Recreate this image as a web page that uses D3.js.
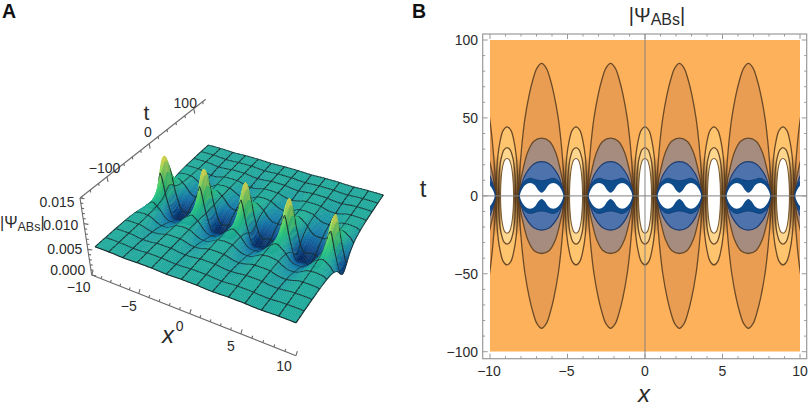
<!DOCTYPE html>
<html><head><meta charset="utf-8">
<script src="https://cdn.jsdelivr.net/npm/d3@7"></script>
<style>
html,body{margin:0;padding:0;background:#fff}
svg{display:block}
text{font-family:"Liberation Sans",Arial,sans-serif;fill:#2b2b2b}
</style></head><body>
<svg id="c" width="809" height="409"></svg>
<script>
// ---------- data ----------
// surface height |Psi| x 1000: rows = |t|, columns = distance in x from nearest crest
const distGrid = [0,0.25,0.5,0.75,1,1.25,1.5,1.75,2,2.25];
const timeGrid = [0,5,10,15,20,25,30,40,50,70,85,100];
const heightRows = [
 [13.5,10.8,6.6,3.8,1.7,1.0,0.9,1.0,1.3,1.5],
 [12.4,9.8,6.3,4.0,2.2,1.4,1.2,1.4,1.7,1.8],
 [9.2,7.8,5.9,4.5,3.1,2.3,2.0,2.0,2.1,2.1],
 [7.4,6.7,5.7,4.9,3.9,3.1,2.7,2.6,2.65,2.7],
 [6.6,6.2,5.6,5.1,4.4,3.7,3.3,3.1,3.05,3.05],
 [6.1,5.9,5.55,5.25,4.75,4.2,3.8,3.55,3.5,3.5],
 [5.8,5.7,5.5,5.3,4.95,4.5,4.15,3.9,3.85,3.85],
 [5.55,5.5,5.45,5.4,5.15,4.9,4.65,4.45,4.35,4.35],
 [5.45,5.45,5.42,5.4,5.28,5.1,4.95,4.82,4.77,4.75],
 [5.42,5.42,5.42,5.4,5.35,5.28,5.22,5.18,5.15,5.12],
 [5.41,5.41,5.4,5.4,5.38,5.34,5.3,5.27,5.25,5.24],
 [5.4,5.4,5.4,5.4,5.38,5.36,5.34,5.32,5.31,5.3]
];
const crestX = [-8.9,-4.45,0,4.45,8.9];
const crestScale = [1.0,0.95,0.92,0.85,0.8];
const troughX = [-11.1,-6.67,-2.22,2.22,6.67,11.1];
const planeLevel = 5.4;
const colorLevels = [1.2,2.4,3.5,4.5,5.4,6.6,8,10.5,13];
const colorValues = ["#03275f","#0a4f91","#1377a8","#1a95a6","#1fa99b","#25c28a","#3fd070","#8bdc5c","#f4e84c"];
const meshCells = 13;

// contour outlines, one quadrant [distance from centre, t]
const troughContours = [
 {fill:"#e89d52", pts:[[0,85],[0.3,82],[0.55,75],[0.8,65],[1.07,50],[1.25,35],[1.38,20],[1.47,8],[1.5,0]]},
 {fill:"#a68c7e", pts:[[0,37],[0.5,35],[0.9,28],[1.2,17],[1.4,7],[1.48,0]]},
 {fill:"#4e72ac", pts:[[0,22],[0.5,20.5],[1.03,14],[1.3,7],[1.45,0]]},
 {fill:"#0f4c8c", pts:[[0,9.7],[0.35,10.3],[0.75,11.3],[1.1,9.5],[1.35,4],[1.43,0]]},
 {fill:"#ffffff", pts:[[0,2],[0.2,3.5],[0.45,7],[0.75,8.3],[1.05,7],[1.3,3.5],[1.4,0]]}
];
const crestContours = [
 {fill:"#ffc46e", pts:[[0,44.3],[0.25,42],[0.45,35],[0.6,25],[0.68,12],[0.7,0]]},
 {fill:"#ffd68d", pts:[[0,31],[0.2,29.5],[0.38,24],[0.5,15],[0.55,0]]},
 {fill:"#ffffff", pts:[[0,24],[0.15,23],[0.3,18],[0.4,8],[0.42,0]]}
];
const xTickLabels = [-10,-5,0,5,10];
const tTickLabels = [-100,-50,0,50,100];
const zTickLabels = [0,0.005,0.01,0.015];
const tAxis3dLabels = [-100,0,100];

// ---------- helpers ----------
const svg = d3.select("#c");
const fmt = v => String(v).replace("-","\u2212");
function label(g,x,y,str,size,anchor){
  return g.append("text").attr("x",x).attr("y",y).attr("text-anchor",anchor||"middle")
    .attr("dominant-baseline","central").attr("font-size",size).text(str);
}

// ---------- panel B ----------
const B = svg.append("g");
const xB = d3.scaleLinear().domain([-10,10]).range([490,800]);
const yB = d3.scaleLinear().domain([-100,100]).range([351.7,40]);
const defs = svg.append("defs");
defs.append("clipPath").attr("id","plot").append("rect")
  .attr("x",xB(-10)).attr("y",yB(100)).attr("width",xB(10)-xB(-10)).attr("height",yB(-100)-yB(100));
const grad = defs.append("linearGradient").attr("id","pinch").attr("x1",0).attr("x2",0).attr("y1",0).attr("y2",1);
[[0,0],[0.5,0.9],[1,0]].forEach(s=>grad.append("stop").attr("offset",s[0]).attr("stop-color","#55381a").attr("stop-opacity",s[1]));
defs.append("filter").attr("id","soft").attr("x","-5%").attr("y","-5%").attr("width","110%").attr("height","110%")
  .append("feGaussianBlur").attr("stdDeviation",0.35);

B.append("rect").attr("x",482.7).attr("y",34).attr("width",324).attr("height",324.7)
  .attr("fill","#fff").attr("stroke","#9a9a9a").attr("stroke-width",1.2);
const plot = B.append("g").attr("clip-path","url(#plot)");
plot.append("rect").attr("x",xB(-10)).attr("y",yB(100)).attr("width",xB(10)-xB(-10)).attr("height",yB(-100)-yB(100)).attr("fill","#fdb15a");
const line = d3.line().curve(d3.curveCatmullRomClosed.alpha(0.5));
function outline(cx,pts){
  const q4 = pts.slice().reverse().filter(p=>p[1]!==0).map(p=>[p[0],-p[1]]);
  const q3 = pts.filter(p=>p[0]!==0&&p[1]!==0).map(p=>[-p[0],-p[1]]);
  const q2 = pts.slice().reverse().filter(p=>p[0]!==0).map(p=>[-p[0],p[1]]);
  return line(pts.concat(q4,q3,q2).map(p=>[xB(cx+p[0]),yB(p[1])]));
}
function drawLevels(centres,levels,stroke,width){
  centres.forEach(cx=>levels.forEach(l=>{
    plot.append("path").attr("d",outline(cx,l.pts)).attr("fill",l.fill).attr("stroke",stroke).attr("stroke-width",width);
  }));
}
drawLevels(troughX,troughContours.slice(0,2),"#6b4a28",1.3);
drawLevels(crestX,crestContours.slice(0,2),"#6b4a28",1.3);
// crowded contour lines between neighbouring lobes
crestX.forEach(cx=>[-1,1].forEach(s=>{
  const a = cx+s*0.38, b = cx+s*0.9;
  plot.append("rect").attr("x",xB(Math.min(a,b))).attr("width",Math.abs(xB(b)-xB(a)))
   .attr("y",yB(26)).attr("height",yB(-26)-yB(26)).attr("fill","url(#pinch)");
}));
drawLevels(troughX,troughContours.slice(2,3),"#1f3d6e",1.2);
drawLevels(troughX,troughContours.slice(3,4),"#0d3f78",0.8);
drawLevels(troughX,troughContours.slice(4),"none",0);
drawLevels(crestX,crestContours.slice(2),"#7b5a30",1.1);
// origin lines
B.append("line").attr("x1",xB(0)).attr("x2",xB(0)).attr("y1",34).attr("y2",358.7).attr("stroke","#808080").attr("stroke-width",1.2).attr("stroke-opacity",0.8);
B.append("line").attr("x1",482.7).attr("x2",806.7).attr("y1",yB(0)).attr("y2",yB(0)).attr("stroke","#808080").attr("stroke-width",1.2).attr("stroke-opacity",0.8);
// frame ticks
d3.range(-10,10.5,1).forEach(v=>{
  const len = v%5===0?5:2.5;
  [[34,34+len],[358.7,358.7-len]].forEach(e=>B.append("line").attr("x1",xB(v)).attr("x2",xB(v)).attr("y1",e[0]).attr("y2",e[1]).attr("stroke","#9a9a9a"));
});
d3.range(-100,101,10).forEach(v=>{
  const len = v%50===0?5:2.5;
  [[482.7,482.7+len],[806.7,806.7-len]].forEach(e=>B.append("line").attr("y1",yB(v)).attr("y2",yB(v)).attr("x1",e[0]).attr("x2",e[1]).attr("stroke","#9a9a9a"));
});
xTickLabels.forEach(v=>label(B,xB(v)+(v<0?-1:0),370.7,fmt(v),14));
tTickLabels.forEach(v=>label(B,478,yB(v),fmt(v),14,"end"));
const title = B.append("text").attr("x",657).attr("y",21.5).attr("text-anchor","middle").attr("font-size",20);
title.append("tspan").text("|\u03a8");
title.append("tspan").attr("font-size",16).attr("dy",3.5).text("ABs");
title.append("tspan").attr("dy",-3.5).text("|");
B.append("text").attr("x",644).attr("y",402).attr("text-anchor","middle").attr("font-size",24).attr("font-style","italic").text("x");
B.append("text").attr("x",423).attr("y",197).attr("text-anchor","middle").attr("font-size",24).text("t");
svg.append("text").attr("x",412).attr("y",17.5).attr("font-size",19.5).attr("font-weight","bold").text("B").style("fill","#111");
svg.append("text").attr("x",2).attr("y",17.5).attr("font-size",19.5).attr("font-weight","bold").text("A").style("fill","#111");

// ---------- panel A : projected surface ----------
const A = svg.append("g");
const uA = d3.scaleLinear().domain([-10,10]).range([0,1]);
const vA = d3.scaleLinear().domain([-100,100]).range([0,1]);
const quad = [[95,246.7],[296,322.7],[383.3,195],[208.3,145]];
const H = (function(){
  const [p0,p1,p2,p3]=quad;
  const dx1=p1[0]-p2[0],dx2=p3[0]-p2[0],sx=p0[0]-p1[0]+p2[0]-p3[0];
  const dy1=p1[1]-p2[1],dy2=p3[1]-p2[1],sy=p0[1]-p1[1]+p2[1]-p3[1];
  const den=dx1*dy2-dx2*dy1, g=(sx*dy2-dx2*sy)/den, h=(dx1*sy-sx*dy1)/den;
  return {a:p1[0]-p0[0]+g*p1[0],b:p3[0]-p0[0]+h*p3[0],c:p0[0],d:p1[1]-p0[1]+g*p1[1],e:p3[1]-p0[1]+h*p3[1],f:p0[1],g,h};
})();
const vanish=[260,1620];
function project(x,t,z){ // z in 1/1000 units
  const u=uA(x),v=vA(t),W=H.g*u+H.h*v+1;
  const X=(H.a*u+H.b*v+H.c)/W,Y=(H.d*u+H.e*v+H.f)/W;
  const dx=X-vanish[0],dy=Y-vanish[1],L=Math.hypot(dx,dy);
  const lift=(z-planeLevel)*5.15/W;
  return [X+dx/L*lift,Y+dy/L*lift];
}
const distIndex=d3.scaleLinear().domain(distGrid).range(d3.range(distGrid.length)).clamp(true);
const timeIndex=d3.scaleLinear().domain(timeGrid).range(d3.range(timeGrid.length)).clamp(true);
function cr(a,b,c,d,s){return 0.5*(2*b+(c-a)*s+(2*a-5*b+4*c-d)*s*s+(3*b-a-3*c+d)*s*s*s);}
function cellValue(i,j){
  const ni=distGrid.length,nj=timeGrid.length;
  if(i<0)i=-i; if(i>=ni)i=2*(ni-1)-i;
  if(j<0)j=-j; if(j>=nj)j=nj-1;
  return heightRows[j][i];
}
function nearest(x){
  let best=0,bd=1e9;
  crestX.forEach((c,i)=>{const d=Math.abs(x-c); if(d<bd){bd=d;best=i;}});
  return [best,bd];
}
function rawHeight(x,t){
  const bd=nearest(x)[1];
  const fi=distIndex(bd), fj=timeIndex(Math.abs(t));
  const i0=Math.floor(fi),j0=Math.floor(fj),si=fi-i0,sj=fj-j0;
  const rowsAt=[-1,0,1,2].map(dj=>cr(cellValue(i0-1,j0+dj),cellValue(i0,j0+dj),cellValue(i0+1,j0+dj),cellValue(i0+2,j0+dj),si));
  return cr(rowsAt[0],rowsAt[1],rowsAt[2],rowsAt[3],sj);
}
function height(x,t){
  const z=rawHeight(x,t);
  return z>planeLevel? planeLevel+(z-planeLevel)*crestScale[nearest(x)[0]] : z;
}
const colour=d3.scaleLinear().domain(colorLevels).range(colorValues).clamp(true);
// grid: subdivisions of the mesh cells
const xStep=20/meshCells,tStep=200/meshCells;
const xMesh=d3.range(0,meshCells+1).map(k=>-10+k*xStep), tMesh=d3.range(0,meshCells+1).map(k=>100-k*tStep);
let xs=[],xIsMesh=[];
xMesh.forEach((m,k)=>{ if(k===meshCells){xs.push(m);xIsMesh.push(true);return;}
  for(let s=0;s<10;s++){xs.push(m+s*xStep/10);xIsMesh.push(s===0);} });
let ts=[],tIsMesh=[];
tMesh.forEach((m,k)=>{ if(k===meshCells){ts.push(m);tIsMesh.push(true);return;}
  const n=(m<=50+tStep&&m>=-50)?8:3;
  for(let s=0;s<n;s++){ts.push(m-s*tStep/n);tIsMesh.push(s===0);} });
const lineP=d3.line();
const surf=A.append("g").attr("filter","url(#soft)");
const Z=ts.map(t=>xs.map(x=>height(x,t)));
const R=ts.map(t=>xs.map(x=>rawHeight(x,t)));
const Pts=ts.map((t,j)=>xs.map((x,i)=>project(x,t,Z[j][i])));
for(let j=0;j<ts.length-1;j++){
 for(let i=0;i<xs.length-1;i++){
  const p=[Pts[j][i],Pts[j][i+1],Pts[j+1][i+1],Pts[j+1][i]];
  const zm=(R[j][i]+R[j][i+1]+R[j+1][i+1]+R[j+1][i])/4;
  const dzdx=((Z[j][i+1]+Z[j+1][i+1])-(Z[j][i]+Z[j+1][i]))/2/(xs[i+1]-xs[i]);
  const dzdt=((Z[j][i]+Z[j][i+1])-(Z[j+1][i]+Z[j+1][i+1]))/2/(ts[j]-ts[j+1]);
  const sh=Math.max(-1,Math.min(1,dzdx/9+dzdt*0.5));
  let col=colour(zm);
  col = sh>0? d3.interpolateRgb(col,"#c8ffa8")(sh*0.22) : d3.interpolateRgb(col,"#00305a")(-sh*0.2);
  surf.append("path").attr("d",lineP(p)+"Z").attr("fill",col).attr("stroke",col).attr("stroke-width",0.45);
  if(tIsMesh[j]) surf.append("path").attr("d",lineP([p[0],p[1]])).attr("fill","none").attr("stroke","#1c3234").attr("stroke-width",1.1);
  if(xIsMesh[i]) surf.append("path").attr("d",lineP([p[0],p[3]])).attr("fill","none").attr("stroke","#1c3234").attr("stroke-width",1.1);
 }
 surf.append("path").attr("d",lineP([Pts[j][xs.length-1],Pts[j+1][xs.length-1]])).attr("fill","none").attr("stroke","#1a2a2c").attr("stroke-width",1.1);
}
{const j=ts.length-1; surf.append("path").attr("d",lineP(Pts[j])).attr("fill","none").attr("stroke","#1a2a2c").attr("stroke-width",1.1);}

// axes of panel A
const axisCol="#6a6a6a";
const seg=(a,b,w)=>A.append("line").attr("x1",a[0]).attr("y1",a[1]).attr("x2",b[0]).attr("y2",b[1]).attr("stroke",axisCol).attr("stroke-width",w||1.1);
// x axis
const xFrac=d3.scaleLinear().domain([-10,-5,0,5,10]).range([0,0.23,0.48,0.73,1]);
const xA=[91.7,275],xZ=[296,355.7];
const xPos=v=>[xA[0]+(xZ[0]-xA[0])*xFrac(v),xA[1]+(xZ[1]-xA[1])*xFrac(v)];
seg(xA,xZ);
d3.range(-10,10.5,1).forEach(v=>{const p=xPos(v),L=v%5===0?4.5:2.5; seg(p,[p[0]+L*0.3,p[1]-L]);});
xTickLabels.forEach(v=>{const p=xPos(v); label(A,p[0]+(v===-10?-13:v===10?-12:-10),p[1]+(v===10?10:12),fmt(v),14);});
// z axis
const zScale=d3.scaleLinear().domain([0,15]).range([0,1]);
const zA=[91.7,275],zB=[80,198];
const zPos=z=>[zA[0]+(zB[0]-zA[0])*zScale(z),zA[1]+(zB[1]-zA[1])*zScale(z)];
seg(zA,zB);
d3.range(0,15.5,1).forEach(z=>{const p=zPos(z),L=z%5===0?4.5:2.5; seg(p,[p[0]+L,p[1]+L*0.15]);});
zTickLabels.forEach(v=>{const p=zPos(v*1000); label(A,p[0]-5.5+(v===0?-1:0),p[1]+(v===0?-5:v===0.015?3.5:v===0.01?1:-0.5),v.toFixed(3),14,"end");});
// t axis
const tFrac=d3.scaleLinear().domain([-100,0,100]).range([0.215,0.55,0.905]);
const tA=[80,198],tB=[205.7,99.3];
const tPos=t=>[tA[0]+(tB[0]-tA[0])*tFrac(t),tA[1]+(tB[1]-tA[1])*tFrac(t)];
seg(tA,tB);
d3.range(-160,121,20).forEach(t=>{const p=tPos(t),L=t%100===0?5:2.5; seg(p,[p[0]+L*0.2,p[1]+L]);});
tAxis3dLabels.forEach(v=>{const p=tPos(v);label(A,p[0]+({"-100":-2.5,"0":-1.3,"100":-8.5})[v],p[1]+({"-100":-9,"0":-11.5,"100":-6})[v],fmt(v),14);});
A.append("text").attr("x",146.5).attr("y",119.5).attr("text-anchor","middle").attr("font-size",21).text("t");
A.append("text").attr("x",168).attr("y",343).attr("text-anchor","middle").attr("font-size",24).attr("font-style","italic").text("x");
const zl=A.append("text").attr("x",0).attr("y",228).attr("font-size",16);
zl.append("tspan").text("|\u03a8");
zl.append("tspan").attr("font-size",12.5).attr("dy",2.5).text("ABs");
zl.append("tspan").attr("dy",-2.5).text("|");
</script>
</body></html>
